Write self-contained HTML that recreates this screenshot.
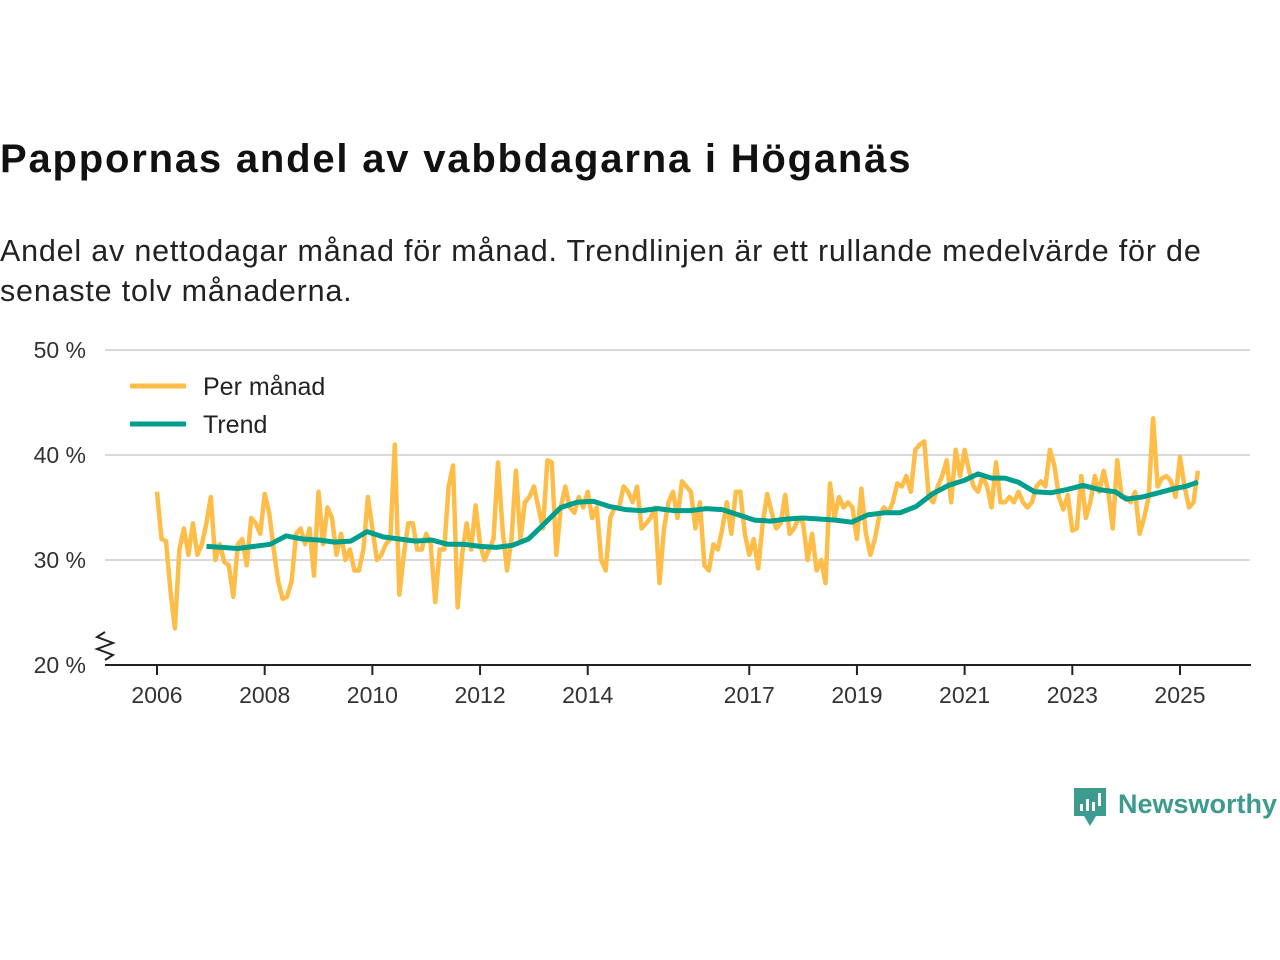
<!DOCTYPE html>
<html><head><meta charset="utf-8">
<style>
body{margin:0;background:#fff;width:1280px;height:960px;overflow:hidden;font-family:"Liberation Sans",sans-serif;}
#title{position:absolute;left:0;top:137px;font-size:40px;font-weight:bold;color:#111;letter-spacing:1.8px;}
#sub{position:absolute;left:0;top:231px;font-size:30.5px;line-height:40px;color:#222;width:1250px;letter-spacing:0.8px;}
svg{position:absolute;left:0;top:0;}
</style></head><body>
<div id="title">Pappornas andel av vabbdagarna i Höganäs</div>
<div id="sub">Andel av nettodagar månad för månad. Trendlinjen är ett rullande medelvärde för de senaste tolv månaderna.</div>
<svg id="chart" width="1280" height="960"></svg>
<script>
const monthly = [
36.5,32,31.8,27,23.5,31,33,30.5,33.5,30.5,31.5,33.5,
36,30,31.5,29.8,29.5,26.5,31.5,32,29.5,34,33.5,32.5,
36.3,34.5,31,28,26.3,26.5,28,32.5,33,31.5,33,28.5,
36.5,31.5,35,34,30.5,32.5,30,31,29,29,31,36,
33,30,30.5,31.5,32,41,26.7,30.5,33.5,33.5,31,31,
32.5,31.5,26,31,31,37,39,25.5,30.5,33.5,31,35.2,
31.5,30,31,32,39.3,33,29,32,38.5,32,35.5,36,
37,35,33,39.5,39.3,30.5,35,37,35,34.5,36,35,
36.5,34,35,30,29,34,35,35,37,36.5,35.5,37,
33,33.5,34,35,27.8,33,35.5,36.5,34,37.5,37,36.5,
33,35.5,29.5,29,31.5,31,33,35.5,32.5,36.5,36.5,32.5,
30.5,32,29.2,33.5,36.3,34.5,33,33.5,36.2,32.5,33,34,
33.5,30,32.5,29,30,27.8,37.3,34,36,35,35.5,35,
32,36.8,32.5,30.5,32,34.3,35,34.5,35.5,37.3,37,38,
36.5,40.5,41,41.3,36,35.5,37,38,39.5,35.5,40.5,38,
40.5,38.5,37,36.5,38,37,35,39.3,35.5,35.5,36,35.5,
36.5,35.5,35,35.5,37,37.5,37,40.5,39,36,34.8,36.2,
32.8,33,38,34,35.5,38,36.5,38.5,36.5,33,39.5,36,
36,35.5,36.5,32.5,34,36,43.5,37,37.8,38,37.5,36,
39.8,37,35,35.5,38.5];
const trendDates = [2006.92,2007.2,2007.5,2007.8,2008.1,2008.4,2008.7,2009.0,2009.3,2009.6,2009.9,2010.2,2010.5,2010.8,2011.1,2011.4,2011.7,2012.0,2012.3,2012.6,2012.9,2013.2,2013.5,2013.8,2014.1,2014.4,2014.7,2015.0,2015.3,2015.6,2015.9,2016.2,2016.5,2016.8,2017.1,2017.4,2017.7,2018.0,2018.3,2018.6,2018.9,2019.2,2019.5,2019.8,2020.1,2020.4,2020.7,2021.0,2021.25,2021.5,2021.75,2022.0,2022.3,2022.6,2022.9,2023.2,2023.5,2023.8,2024.0,2024.3,2024.6,2024.9,2025.1,2025.33];
const trendValues = [31.3,31.2,31.1,31.3,31.5,32.3,32,31.9,31.7,31.8,32.7,32.2,32,31.8,31.9,31.5,31.5,31.3,31.2,31.4,32,33.5,35,35.5,35.6,35.1,34.8,34.7,34.9,34.7,34.7,34.9,34.8,34.3,33.8,33.7,33.9,34,33.9,33.8,33.6,34.3,34.5,34.5,35.1,36.3,37.1,37.6,38.2,37.8,37.8,37.4,36.5,36.4,36.7,37.1,36.7,36.5,35.8,36,36.4,36.8,37,37.4];
const yTicks = [20,30,40,50];
const yTickLabels = ["20 %","30 %","40 %","50 %"];
const xTicks = [2006,2008,2010,2012,2014,2017,2019,2021,2023,2025];

const NS='http://www.w3.org/2000/svg';
const svg=document.getElementById('chart');
function X(t){return 157+(t-2006)*(1180-157)/19;}
function Y(v){return 665-(v-20)*10.5;}
function mk(tag,attrs,parent){const e=document.createElementNS(NS,tag);for(const k in attrs)e.setAttribute(k,attrs[k]);(parent||svg).appendChild(e);return e;}

yTicks.forEach((v,i)=>{
  if(v>20){const g=mk('line',{x1:105,x2:1250,y1:Y(v),y2:Y(v),stroke:'#d9d9d9','stroke-width':2});
  
  }
  const t=mk('text',{x:86,y:Y(v)+8,'text-anchor':'end','font-size':23,fill:'#333'});
  t.textContent=yTickLabels[i];
  
  
});
const ax=mk('line',{x1:105,x2:1251,y1:665,y2:665,stroke:'#222','stroke-width':2});


const zz=mk('path',{d:'M105 632 L97 637 L113 643 L97 649 L113 655 L105 660',fill:'none',stroke:'#222','stroke-width':2});


xTicks.forEach(y=>{
  const l=mk('line',{x1:X(y),x2:X(y),y1:665,y2:675,stroke:'#222','stroke-width':2});
  
  
  const t=mk('text',{x:X(y),y:703,'text-anchor':'middle','font-size':23,fill:'#333'});
  t.textContent=y;
  
  
});
const mp=monthly.map((v,i)=>X(2006+i/12).toFixed(1)+','+Y(v).toFixed(1)).join(' ');
const ml=mk('polyline',{points:mp,fill:'none',stroke:'#fdbd48','stroke-width':4.5,'stroke-linejoin':'round'});


const tp=trendValues.map((v,i)=>X(trendDates[i]).toFixed(1)+','+Y(v).toFixed(1)).join(' ');
const tl=mk('polyline',{points:tp,fill:'none',stroke:'#009e8c','stroke-width':5,'stroke-linejoin':'round'});



[['Per månad','#fdbd48',386],['Trend','#009e8c',424]].forEach(d=>{
  const g=mk('g',{});
  
  
  mk('line',{x1:130,x2:186,y1:d[2],y2:d[2],stroke:d[1],'stroke-width':5},g);
  const t=mk('text',{x:203,y:d[2]+9,'font-size':25,fill:'#222'},g);
  t.textContent=d[0];
});
const logo=mk('g',{});


mk('path',{d:'M1074 788 h32 v28 h-10 l-6 10 l-6 -10 h-10 z',fill:'#3d9a8f'},logo);
mk('rect',{x:1080,y:804,width:3,height:7,fill:'#fff'},logo);
mk('rect',{x:1086,y:799,width:3,height:12,fill:'#fff'},logo);
mk('rect',{x:1092,y:802,width:3,height:9,fill:'#fff'},logo);
mk('rect',{x:1098,y:793,width:3,height:13,fill:'#fff'},logo);
const lt=mk('text',{x:1118,y:813,'font-size':27,fill:'#3d9a8f','font-weight':'bold'},logo);
lt.textContent='Newsworthy';
</script>
</body></html>
